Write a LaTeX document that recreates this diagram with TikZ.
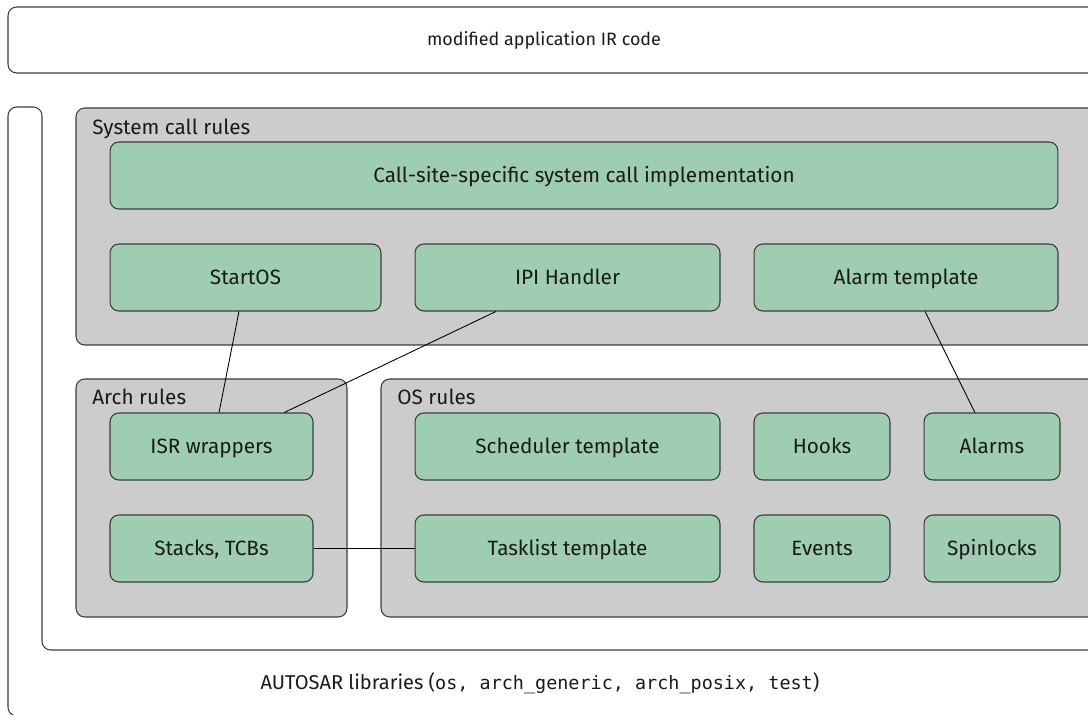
\documentclass[tikz,border=0pt]{standalone}
\usepackage{fontspec}
\setmainfont{Fira Sans}
\setmonofont{DejaVu Sans Mono}
\usetikzlibrary{fit,calc}
\definecolor{panelgray}{RGB}{204,204,204}
\definecolor{unitgreen}{RGB}{158,205,178}
\definecolor{edgegray}{RGB}{60,60,60}
\definecolor{inkdark}{RGB}{26,26,26}
\tikzset{
  frame/.style={draw=edgegray, line width=0.6pt, rounded corners=5pt},
  panel/.style={frame, fill=panelgray, inner sep=0pt},
  unit/.style={frame, fill=unitgreen, inner sep=0pt, text=inkdark,
    minimum height=1.34cm, text height=8.1pt, text depth=0pt,
    font=\fontsize{11.8}{14}\selectfont},
  caption/.style={anchor=base west, inner sep=0pt, text=inkdark, font=\fontsize{11.8}{14}\selectfont},
  plain/.style={inner sep=0pt, text=inkdark},
  link/.style={draw=black, line width=0.5pt}
}
\begin{document}
\begin{tikzpicture}[x=0.02cm, y=-0.02cm]
\useasboundingbox (0,0) rectangle (1088,715);
\clip (0,0) rectangle (1088,715);

% application code layer
\node[frame, inner sep=0pt, fit={(8,7) (1110,73)}] (app) {};
\node[plain, font=\fontsize{10.2}{12}\selectfont] (applabel) at (544,40) {modified application IR code};

% library frame wrapping the rule sets
\draw[frame] (8,716) -- (8,107) -- (42,107) -- (42,650) -- (1110,650) -- (1110,716) -- cycle;
\node[plain, font=\fontsize{11.4}{14}\selectfont] (liblabel) at (540,683)
  {AUTOSAR libraries ({\fontsize{10.5}{14}\selectfont\ttfamily os, arch\_generic, arch\_posix, test})};

% rule panels
\node[panel, fit={(76,108) (1110,345)}] (sys) {};
\node[caption] (syslabel) at (92,135) {System call rules};
\node[panel, fit={(76,379) (347,617)}] (arch) {};
\node[caption] (archlabel) at (92,405) {Arch rules};
\node[panel, fit={(381,379) (1110,617)}] (os) {};
\node[caption] (oslabel) at (397,405) {OS rules};

% system call units
\node[unit, minimum width=18.96cm] (callsite) at (584,175.5) {Call-site-specific system call implementation};
\node[unit, minimum width=5.42cm] (startos) at (245.5,277.5) {StartOS};
\node[unit, minimum width=6.10cm] (ipi) at (567.5,277.5) {IPI Handler};
\node[unit, minimum width=6.08cm] (alarmtpl) at (906,277.5) {Alarm template};

% arch units
\node[unit, minimum width=4.06cm] (isr) at (211.5,446.5) {ISR wrappers};
\node[unit, minimum width=4.06cm] (stacks) at (211.5,548.5) {Stacks, TCBs};

% os units
\node[unit, minimum width=6.10cm] (sched) at (567.5,446.5) {Scheduler template};
\node[unit, minimum width=6.10cm] (tasklist) at (567.5,548.5) {Tasklist template};
\node[unit, minimum width=2.72cm] (hooks) at (822,446.5) {Hooks};
\node[unit, minimum width=2.72cm] (events) at (822,548.5) {Events};
\node[unit, minimum width=2.72cm] (alarms) at (992,446.5) {Alarms};
\node[unit, minimum width=2.72cm] (spin) at (992,548.5) {Spinlocks};

% dependencies
\draw[link] ($(startos.south west)!0.476!(startos.south east)$) -- ($(isr.north west)!0.537!(isr.north east)$);
\draw[link] ($(ipi.south west)!0.266!(ipi.south east)$) -- ($(isr.north west)!0.857!(isr.north east)$);
\draw[link] ($(alarmtpl.south west)!0.5625!(alarmtpl.south east)$) -- ($(alarms.north west)!0.375!(alarms.north east)$);
\draw[link] (stacks.east) -- (tasklist.west);
\end{tikzpicture}
\end{document}
